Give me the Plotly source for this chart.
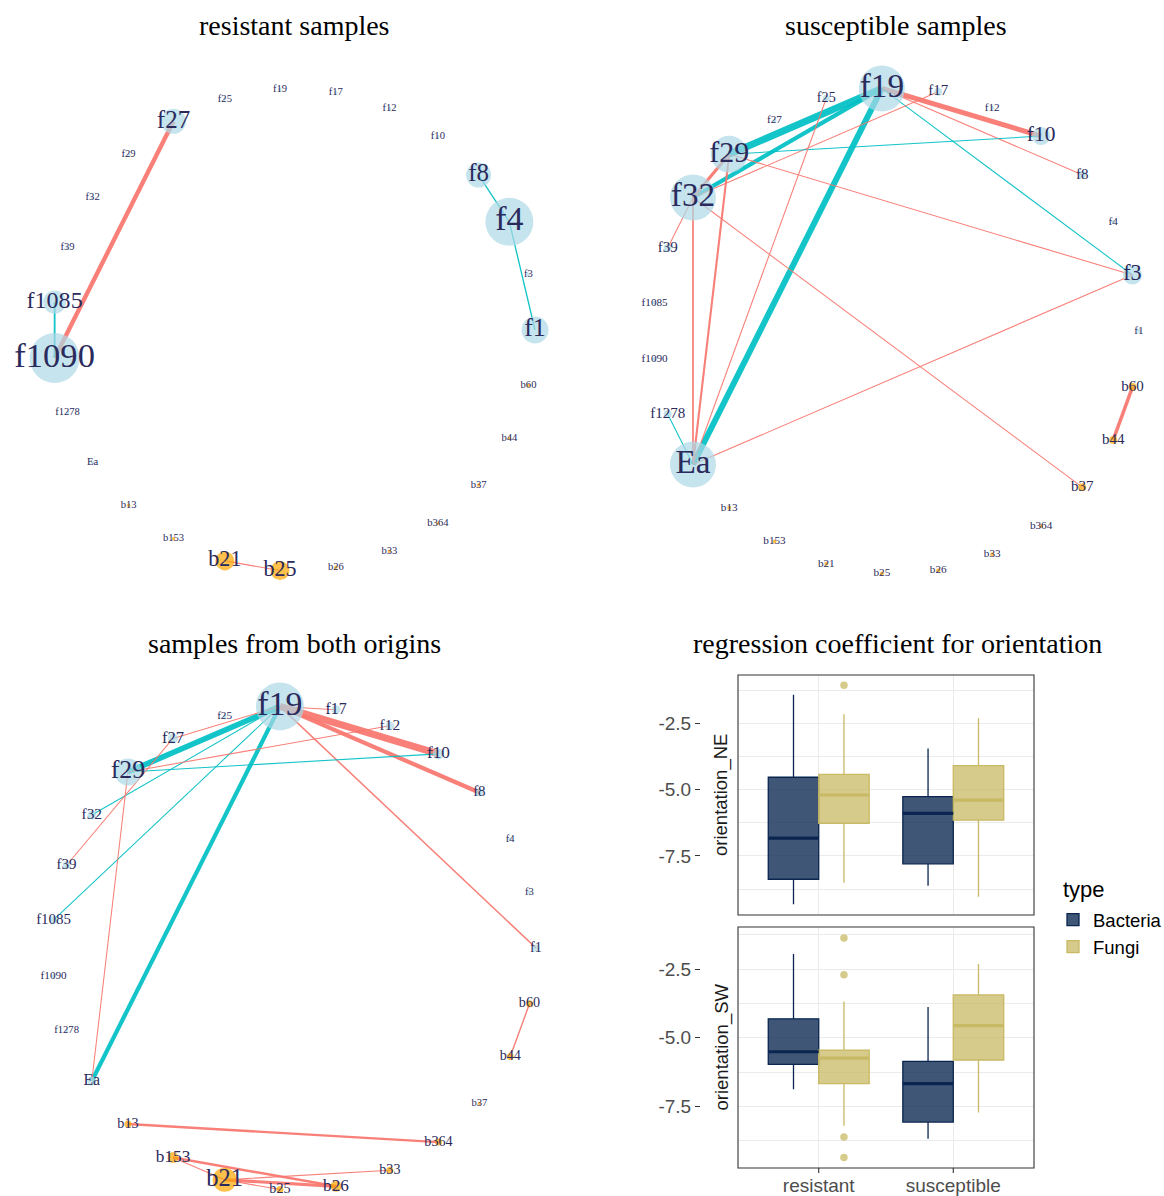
import math
import plotly.graph_objects as go

W, H = 1164, 1196

# ---------------- network data ----------------
nodes = ["f1", "f3", "f4", "f8", "f10", "f12", "f17", "f19", "f25", "f27", "f29",
         "f32", "f39", "f1085", "f1090", "f1278", "Ea",
         "b13", "b153", "b21", "b25", "b26", "b33", "b364", "b37", "b44", "b60"]
node_kind = ["fungi"] * 17 + ["bacteria"] * 10

# hub score of every node in each network (drives node and label size)
res_hub = [27, 3.5, 48, 25, 3.5, 3.5, 3.5, 3.5, 3.5, 25, 3.5, 3.5, 3.5, 23, 50, 3.5, 3.5,
           3.5, 3.5, 19, 19, 3.5, 3.5, 3.5, 3.5, 3.5, 3.5]
sus_hub = [4, 19, 4, 8, 18, 4, 8, 46, 7, 4, 37, 46, 8, 4, 4, 8, 46,
           4, 4, 4, 4, 4, 4, 4, 8, 8, 8]
both_hub = [7, 3.5, 3.5, 8, 11, 8.5, 9, 48, 4, 10, 27, 8.5, 8, 8, 4, 3.5, 9,
            7, 11, 24, 7, 11, 7, 7, 3.5, 7, 7]

# co-occurrence edges (signed association strength)
res_src = ["f27", "f1085", "f8", "f4", "b21"]
res_dst = ["f1090", "f1090", "f4", "f1", "b25"]
res_w = [0.62, -0.26, -0.19, -0.19, 0.15]

sus_src = ["f19", "f19", "f19", "f19", "f19", "f19", "f32", "f32", "f29", "f29",
           "f32", "f32", "f29", "f25", "f3", "f1278", "f39", "b60"]
sus_dst = ["f29", "f32", "Ea", "f10", "f8", "f3", "f29", "f17", "f3", "f10",
           "b37", "Ea", "Ea", "Ea", "Ea", "Ea", "f32", "b44"]
sus_w = [-1.0, -0.6, -0.85, 0.72, 0.15, -0.15, 0.45, 0.15, 0.15, -0.15,
         0.15, 0.25, 0.3, 0.15, 0.15, -0.15, 0.15, 0.5]

both_src = ["f19", "f19", "f19", "f19", "f19", "f19", "f19", "f19", "f19", "f29",
            "f29", "f27", "f29", "b60", "b13", "b153", "b153", "b21", "b21", "b21"]
both_dst = ["f29", "Ea", "f10", "f8", "f17", "f1", "f27", "f32", "f1085", "f10",
            "f12", "f39", "Ea", "b44", "b364", "b26", "b21", "b26", "b33", "b25"]
both_w = [-0.8, -0.6, 1.0, 0.6, 0.15, 0.22, 0.15, -0.15, -0.15, -0.15,
          0.15, 0.15, 0.15, 0.2, 0.35, 0.35, 0.15, 0.45, 0.15, 0.15]

# ---------------- regression coefficients ----------------
categories = ["resistant", "susceptible"]

ne_bact_low = [-9.32, -8.63]
ne_bact_q1 = [-8.38, -7.80]
ne_bact_med = [-6.83, -5.89]
ne_bact_q3 = [-4.53, -5.26]
ne_bact_up = [-1.42, -3.44]
ne_fungi_low = [-8.51, -9.04]
ne_fungi_q1 = [-6.27, -6.15]
ne_fungi_med = [-5.20, -5.39]
ne_fungi_q3 = [-4.42, -4.09]
ne_fungi_up = [-2.15, -2.30]
ne_fungi_out_cat = ["resistant"]
ne_fungi_out = [-1.06]

sw_bact_low = [-6.87, -8.68]
sw_bact_q1 = [-5.97, -8.07]
sw_bact_med = [-5.51, -6.67]
sw_bact_q3 = [-4.31, -5.86]
sw_bact_up = [-1.95, -3.88]
sw_fungi_low = [-8.20, -7.72]
sw_fungi_q1 = [-6.67, -5.81]
sw_fungi_med = [-5.74, -4.56]
sw_fungi_q3 = [-5.45, -3.44]
sw_fungi_up = [-3.68, -2.32]
sw_fungi_out_cat = ["resistant"] * 4
sw_fungi_out = [-1.37, -2.71, -8.61, -9.36]

y_ticks = [-2.5, -5.0, -7.5]
y_ticktext = ["-2.5", "-5.0", "-7.5"]
y_minor = [-1.25, -3.75, -6.25, -8.75]

# ---------------- styling ----------------
SERIF = "Liberation Serif, Times New Roman, serif"
SANS = "Liberation Sans, Arial, sans-serif"
POS_COL = "#F8766D"
NEG_COL = "#00BFC4"
KIND_COL = {"fungi": "#ADD8E6", "bacteria": "#FFA500"}
LABEL_COL = "#2A2A5C"
BACT_LINE, BACT_FILL = "#0A2650", "rgba(10,38,80,0.78)"
FUNGI_LINE, FUNGI_FILL = "#C8B964", "rgba(200,185,100,0.75)"
TICK_COL = "#333333"


def fx(px):
    return px / W


def fy(py):
    return 1 - py / H


fig = go.Figure()

# network panels: (axis id, centre x, centre y, left, right, top, bottom, radius, title)
panels = [
    ("", 294, 330, 0, 588, 40, 620, 241, "resistant samples", 26,
     res_hub, res_src, res_dst, res_w),
    ("2", 896, 331, 600, 1164, 41, 621, 243, "susceptible samples", 26,
     sus_hub, sus_src, sus_dst, sus_w),
    ("3", 294, 948, 0, 588, 660, 1196, 242, "samples from both origins", 643,
     both_hub, both_src, both_dst, both_w),
]

annotations = []
shapes = []
n = len(nodes)
for (ax, cx, cy, left, right, top, bottom, R, title, ty,
     hub, src, dst, wts) in panels:
    xs = [R * math.cos(2 * math.pi * k / n) for k in range(n)]
    ys = [R * math.sin(2 * math.pi * k / n) for k in range(n)]
    idx = {name: k for k, name in enumerate(nodes)}
    xa, ya = "x" + ax, "y" + ax
    for s, d, w in zip(src, dst, wts):
        i, j = idx[s], idx[d]
        fig.add_trace(go.Scatter(
            x=[xs[i], xs[j]], y=[ys[i], ys[j]], mode="lines",
            line=dict(color=POS_COL if w > 0 else NEG_COL, width=7 * abs(w)),
            opacity=0.92, hoverinfo="skip", showlegend=False,
            xaxis=xa, yaxis=ya, cliponaxis=False))
    fig.add_trace(go.Scatter(
        x=xs, y=ys, mode="markers",
        marker=dict(size=hub, color=[KIND_COL[k] for k in node_kind],
                    line=dict(width=0)),
        hoverinfo="skip", showlegend=False, xaxis=xa, yaxis=ya, cliponaxis=False))
    fig.add_trace(go.Scatter(
        x=xs, y=ys, mode="text", text=nodes, textposition="middle center",
        textfont=dict(family=SERIF, color=LABEL_COL,
                      size=[2 + 4.6 * math.sqrt(h) for h in hub]),
        hoverinfo="skip", showlegend=False, xaxis=xa, yaxis=ya, cliponaxis=False))
    fig.layout["xaxis" + ax] = dict(domain=[fx(left), fx(right)],
                                    range=[left - cx, right - cx], visible=False,
                                    anchor=ya, automargin=False)
    fig.layout["yaxis" + ax] = dict(domain=[fy(bottom), fy(top)],
                                    range=[cy - bottom, cy - top], visible=False,
                                    anchor=xa, automargin=False)
    annotations.append(dict(text=title, x=fx(cx), y=fy(ty), xref="paper", yref="paper",
                            showarrow=False, xanchor="center", yanchor="middle",
                            font=dict(family=SERIF, size=28, color="black")))

annotations.append(dict(text="regression coefficient for orientation", x=fx(897), y=fy(643),
                        xref="paper", yref="paper", showarrow=False,
                        xanchor="center", yanchor="middle",
                        font=dict(family=SERIF, size=28, color="black")))

# ---------------- box plot facets ----------------
BOX_W = 0.375
cat_pos = {c: i + 1 for i, c in enumerate(categories)}


def add_boxes(xa, ya, low, q1, med, q3, up, offset, line, fill, name, legend):
    pos = [cat_pos[c] + offset for c in categories]
    fig.add_trace(go.Box(
        x=pos, q1=q1, median=med, q3=q3, lowerfence=low, upperfence=up,
        width=BOX_W, whiskerwidth=0, boxpoints=False,
        line=dict(color=line, width=1.3), fillcolor=fill, name=name,
        legendgroup=name, showlegend=legend, hoverinfo="skip",
        xaxis=xa, yaxis=ya))
    for p, m in zip(pos, med):
        fig.add_trace(go.Scatter(
            x=[p - BOX_W / 2, p + BOX_W / 2], y=[m, m], mode="lines",
            line=dict(color=line, width=3.2), hoverinfo="skip",
            showlegend=False, xaxis=xa, yaxis=ya))


def add_outliers(xa, ya, cats, vals, offset, color):
    fig.add_trace(go.Scatter(
        x=[cat_pos[c] + offset for c in cats], y=vals, mode="markers",
        marker=dict(size=7.5, color=color), hoverinfo="skip", showlegend=False,
        xaxis=xa, yaxis=ya))


add_boxes("x4", "y4", ne_bact_low, ne_bact_q1, ne_bact_med, ne_bact_q3, ne_bact_up,
          -BOX_W / 2, BACT_LINE, BACT_FILL, "Bacteria", True)
add_boxes("x4", "y4", ne_fungi_low, ne_fungi_q1, ne_fungi_med, ne_fungi_q3, ne_fungi_up,
          BOX_W / 2, FUNGI_LINE, FUNGI_FILL, "Fungi", True)
add_outliers("x4", "y4", ne_fungi_out_cat, ne_fungi_out, BOX_W / 2, FUNGI_FILL)

add_boxes("x5", "y5", sw_bact_low, sw_bact_q1, sw_bact_med, sw_bact_q3, sw_bact_up,
          -BOX_W / 2, BACT_LINE, BACT_FILL, "Bacteria", False)
add_boxes("x5", "y5", sw_fungi_low, sw_fungi_q1, sw_fungi_med, sw_fungi_q3, sw_fungi_up,
          BOX_W / 2, FUNGI_LINE, FUNGI_FILL, "Fungi", False)
add_outliers("x5", "y5", sw_fungi_out_cat, sw_fungi_out, BOX_W / 2, FUNGI_FILL)

grid = "#EBEBEB"
box_panels = [("4", 675, 915, [-9.73, -0.67], False, "orientation_NE"),
              ("5", 927, 1168, [-9.74, -0.97], True, "orientation_SW")]
for ax, top, bottom, yr, show_x, strip in box_panels:
    fig.layout["xaxis" + ax] = dict(
        domain=[fx(738), fx(1034)], range=[0.4, 2.6], anchor="y" + ax,
        tickvals=[cat_pos[c] for c in categories], ticktext=categories,
        showticklabels=show_x, ticks="", ticklabelstandoff=4,
        tickfont=dict(family=SANS, size=19, color="#4D4D4D"),
        showgrid=True, gridcolor=grid, gridwidth=1.1, zeroline=False, showline=False,
        automargin=False)
    fig.layout["yaxis" + ax] = dict(
        domain=[fy(bottom), fy(top)], range=yr, anchor="free", position=fx(700),
        side="left", tickvals=y_ticks, ticktext=y_ticktext, ticks="outside",
        ticklen=5, tickwidth=1.1, tickcolor=TICK_COL,
        tickfont=dict(family=SANS, size=19, color="#4D4D4D"),
        showgrid=True, gridcolor=grid, gridwidth=1.1, zeroline=False, showline=False,
        automargin=False,
        minor=dict(tickvals=y_minor, showgrid=True, gridcolor=grid, gridwidth=0.6,
                   ticks=""))
    shapes.append(dict(type="rect", xref="x" + ax + " domain", yref="y" + ax + " domain",
                       x0=0, x1=1, y0=0, y1=1, line=dict(color=TICK_COL, width=1.1),
                       fillcolor="rgba(0,0,0,0)", layer="above"))
    if show_x:
        # short tick marks below the lower facet, at the category positions
        for c in categories:
            shapes.append(dict(type="line", xref="x" + ax, yref="y" + ax + " domain",
                               x0=cat_pos[c], x1=cat_pos[c], y0=0, y1=-5 / (bottom - top),
                               line=dict(color=TICK_COL, width=1.1)))
    annotations.append(dict(text=strip, x=fx(721), y=fy((top + bottom) / 2),
                            xref="paper", yref="paper", showarrow=False, textangle=-90,
                            xanchor="center", yanchor="middle",
                            font=dict(family=SANS, size=18.5, color="#1A1A1A")))

# legend heading
annotations.append(dict(text="type", x=fx(1061), y=fy(890), xref="paper", yref="paper",
                        showarrow=False, xanchor="left", yanchor="middle",
                        font=dict(family=SANS, size=22, color="black")))

fig.update_layout(
    width=W, height=H, autosize=False,
    margin=dict(l=0, r=0, t=0, b=0, autoexpand=False),
    paper_bgcolor="white", plot_bgcolor="white",
    annotations=annotations, shapes=shapes,
    legend=dict(x=fx(1053), y=fy(901), xanchor="left", yanchor="top",
                font=dict(family=SANS, size=18.5, color="black"),
                bgcolor="rgba(0,0,0,0)", tracegroupgap=0, itemwidth=30),
    showlegend=True,
)

fig.write_html("out.html")
